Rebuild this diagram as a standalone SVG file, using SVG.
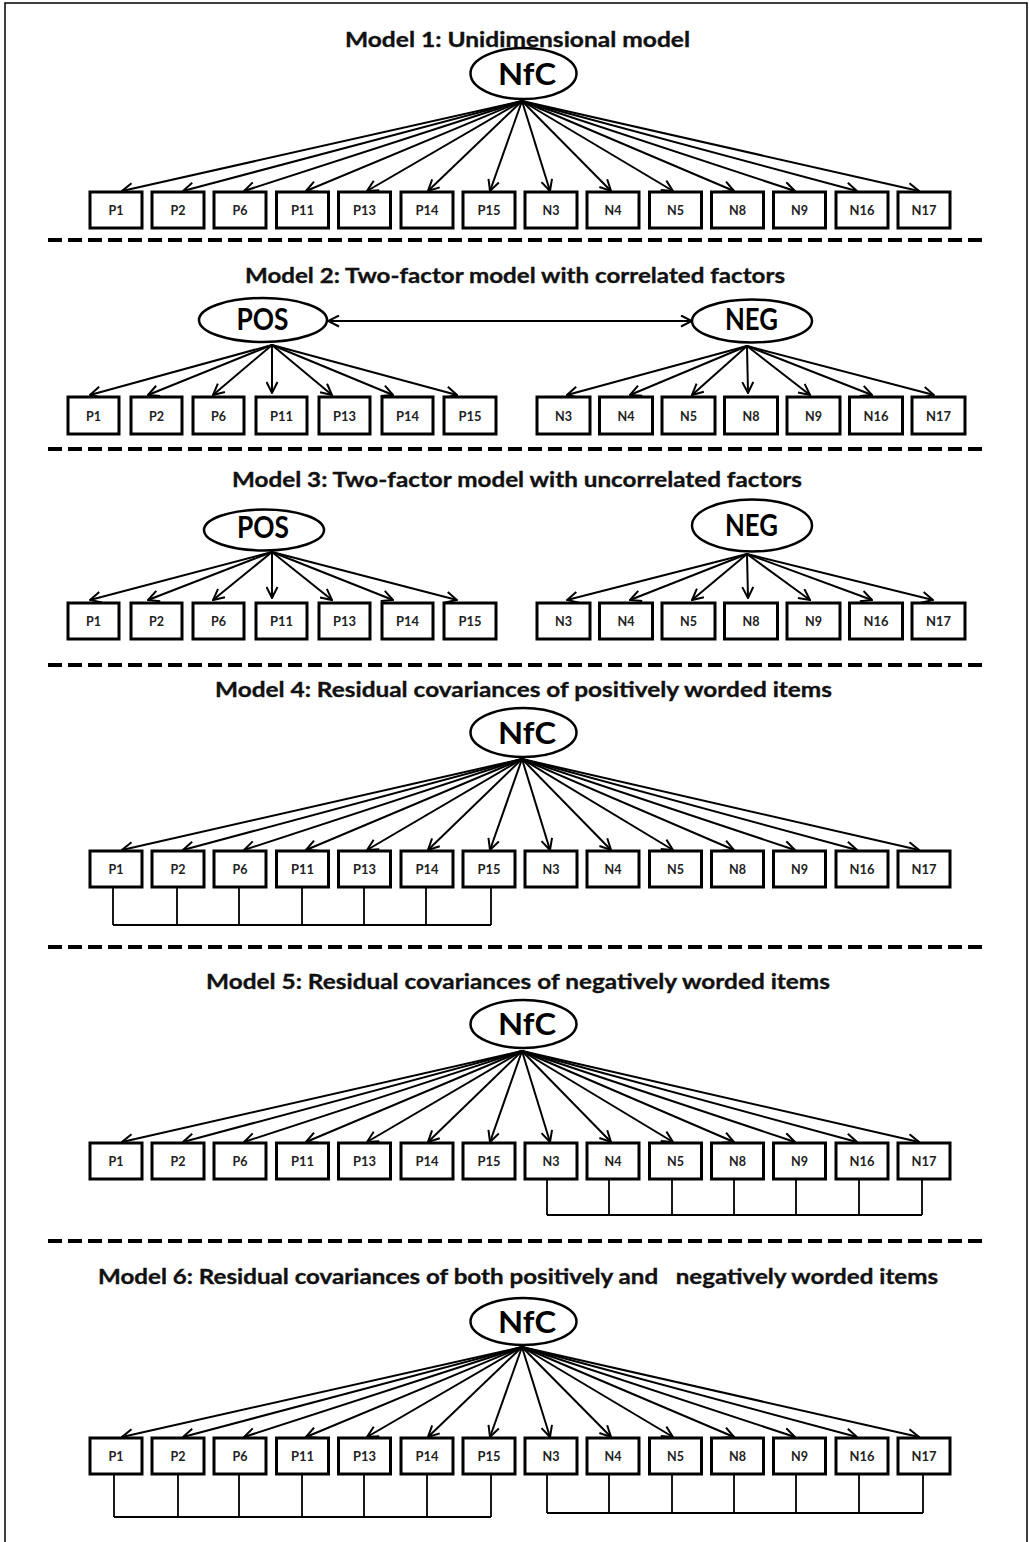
<svg xmlns="http://www.w3.org/2000/svg" width="1029" height="1542" viewBox="0 0 1029 1542">
<style>
.bg{fill:#fff}
.frame{fill:none;stroke:#000;stroke-width:1.5}
.box{fill:#fff;stroke:#000;stroke-width:3}
.lat{fill:#fff;stroke:#000;stroke-width:2.5}
.lbl{font-family:Lato,"Liberation Sans",sans-serif;font-weight:bold;font-size:14px;fill:#222;text-anchor:middle}
.lt{font-family:Lato,"Liberation Sans",sans-serif;font-weight:bold;font-size:31px;fill:#000;text-anchor:middle}
.ttl{font-family:Lato,"Liberation Sans",sans-serif;font-weight:bold;font-size:21.5px;fill:#111;stroke:#111;stroke-width:0.35;text-anchor:middle}
.arr{fill:none;stroke:#000;stroke-width:2;marker-end:url(#ah)}
.dbl{fill:none;stroke:#000;stroke-width:2;marker-end:url(#ah);marker-start:url(#ah)}
.cov{fill:none;stroke:#000;stroke-width:1.8}
.dash{fill:none;stroke:#000;stroke-width:4;stroke-dasharray:14 6}
</style>
<defs>
<marker id="ah" viewBox="0 0 13 13" refX="12" refY="6.5" markerWidth="13" markerHeight="13" markerUnits="userSpaceOnUse" orient="auto-start-reverse">
<path d="M1,1 L12,6.5 L1,12" fill="none" stroke="#000" stroke-width="2"/>
</marker>
</defs>
<rect class="bg" x="0" y="0" width="1029" height="1542"/>
<path class="frame" d="M5,1542 V3 H1027 V1542"/>

<g id="titles">
<text class="ttl" x="517.5" y="47" textLength="345" lengthAdjust="spacingAndGlyphs">Model 1: Unidimensional model</text>
<text class="ttl" x="515" y="283" textLength="540" lengthAdjust="spacingAndGlyphs">Model 2: Two-factor model with correlated factors</text>
<text class="ttl" x="517" y="487" textLength="570" lengthAdjust="spacingAndGlyphs">Model 3: Two-factor model with uncorrelated factors</text>
<text class="ttl" x="523.5" y="697" textLength="617" lengthAdjust="spacingAndGlyphs">Model 4: Residual covariances of positively worded items</text>
<text class="ttl" x="518" y="989" textLength="624" lengthAdjust="spacingAndGlyphs">Model 5: Residual covariances of negatively worded items</text>
<text class="ttl" x="518" y="1284" textLength="840" lengthAdjust="spacingAndGlyphs" style="white-space:pre">Model 6: Residual covariances of both positively and   negatively worded items</text>
</g>

<g id="separators">
<line class="dash" x1="48" y1="240" x2="985" y2="240"/>
<line class="dash" x1="48" y1="449" x2="985" y2="449"/>
<line class="dash" x1="48" y1="665" x2="985" y2="665"/>
<line class="dash" x1="48" y1="947" x2="985" y2="947"/>
<line class="dash" x1="48" y1="1241" x2="985" y2="1241"/>
</g>

<g id="connectors">
<!-- Model 1 -->
<line class="arr" x1="522" y1="101" x2="122" y2="191"/>
<line class="arr" x1="522" y1="101" x2="183" y2="191"/>
<line class="arr" x1="522" y1="101" x2="244" y2="191"/>
<line class="arr" x1="522" y1="101" x2="306" y2="191"/>
<line class="arr" x1="522" y1="101" x2="367" y2="191"/>
<line class="arr" x1="522" y1="101" x2="428" y2="191"/>
<line class="arr" x1="522" y1="101" x2="490" y2="191"/>
<line class="arr" x1="522" y1="101" x2="550" y2="191"/>
<line class="arr" x1="522" y1="101" x2="611" y2="191"/>
<line class="arr" x1="522" y1="101" x2="673" y2="191"/>
<line class="arr" x1="522" y1="101" x2="734" y2="191"/>
<line class="arr" x1="522" y1="101" x2="795" y2="191"/>
<line class="arr" x1="522" y1="101" x2="857" y2="191"/>
<line class="arr" x1="522" y1="101" x2="919" y2="191"/>
<!-- Model 2 -->
<line class="dbl" x1="328" y1="321" x2="692" y2="321"/>
<line class="arr" x1="272" y1="345" x2="90" y2="395"/>
<line class="arr" x1="272" y1="345" x2="148" y2="395"/>
<line class="arr" x1="272" y1="345" x2="213" y2="395"/>
<line class="arr" x1="272" y1="345" x2="272" y2="393"/>
<line class="arr" x1="272" y1="345" x2="332" y2="395"/>
<line class="arr" x1="272" y1="345" x2="393" y2="395"/>
<line class="arr" x1="272" y1="345" x2="457" y2="395"/>
<line class="arr" x1="747" y1="346" x2="567" y2="395"/>
<line class="arr" x1="747" y1="346" x2="630" y2="395"/>
<line class="arr" x1="747" y1="346" x2="692" y2="395"/>
<line class="arr" x1="747" y1="346" x2="748" y2="393"/>
<line class="arr" x1="747" y1="346" x2="810" y2="395"/>
<line class="arr" x1="747" y1="346" x2="872" y2="395"/>
<line class="arr" x1="747" y1="346" x2="934" y2="395"/>
<!-- Model 3 -->
<line class="arr" x1="272" y1="552" x2="90" y2="600"/>
<line class="arr" x1="272" y1="552" x2="148" y2="600"/>
<line class="arr" x1="272" y1="552" x2="213" y2="600"/>
<line class="arr" x1="272" y1="552" x2="272" y2="598"/>
<line class="arr" x1="272" y1="552" x2="332" y2="600"/>
<line class="arr" x1="272" y1="552" x2="393" y2="600"/>
<line class="arr" x1="272" y1="552" x2="457" y2="600"/>
<line class="arr" x1="747" y1="554" x2="567" y2="600"/>
<line class="arr" x1="747" y1="554" x2="630" y2="600"/>
<line class="arr" x1="747" y1="554" x2="692" y2="600"/>
<line class="arr" x1="747" y1="554" x2="748" y2="598"/>
<line class="arr" x1="747" y1="554" x2="810" y2="600"/>
<line class="arr" x1="747" y1="554" x2="872" y2="600"/>
<line class="arr" x1="747" y1="554" x2="933" y2="600"/>
<!-- Model 4 -->
<line class="arr" x1="522" y1="759" x2="122" y2="850"/>
<line class="arr" x1="522" y1="759" x2="183" y2="850"/>
<line class="arr" x1="522" y1="759" x2="244" y2="850"/>
<line class="arr" x1="522" y1="759" x2="306" y2="850"/>
<line class="arr" x1="522" y1="759" x2="367" y2="850"/>
<line class="arr" x1="522" y1="759" x2="428" y2="850"/>
<line class="arr" x1="522" y1="759" x2="490" y2="850"/>
<line class="arr" x1="522" y1="759" x2="550" y2="850"/>
<line class="arr" x1="522" y1="759" x2="611" y2="850"/>
<line class="arr" x1="522" y1="759" x2="673" y2="850"/>
<line class="arr" x1="522" y1="759" x2="734" y2="850"/>
<line class="arr" x1="522" y1="759" x2="795" y2="850"/>
<line class="arr" x1="522" y1="759" x2="857" y2="850"/>
<line class="arr" x1="522" y1="759" x2="919" y2="850"/>
<path class="cov" d="M113,888 V925 M177,888 V925 M239,888 V925 M302,888 V925 M364,888 V925 M426,888 V925 M491,888 V925 M113,925 H491"/>
<!-- Model 5 -->
<line class="arr" x1="522" y1="1051" x2="122" y2="1142"/>
<line class="arr" x1="522" y1="1051" x2="183" y2="1142"/>
<line class="arr" x1="522" y1="1051" x2="244" y2="1142"/>
<line class="arr" x1="522" y1="1051" x2="306" y2="1142"/>
<line class="arr" x1="522" y1="1051" x2="367" y2="1142"/>
<line class="arr" x1="522" y1="1051" x2="428" y2="1142"/>
<line class="arr" x1="522" y1="1051" x2="490" y2="1142"/>
<line class="arr" x1="522" y1="1051" x2="550" y2="1142"/>
<line class="arr" x1="522" y1="1051" x2="611" y2="1142"/>
<line class="arr" x1="522" y1="1051" x2="673" y2="1142"/>
<line class="arr" x1="522" y1="1051" x2="734" y2="1142"/>
<line class="arr" x1="522" y1="1051" x2="795" y2="1142"/>
<line class="arr" x1="522" y1="1051" x2="857" y2="1142"/>
<line class="arr" x1="522" y1="1051" x2="919" y2="1142"/>
<path class="cov" d="M547,1180 V1215 M609,1180 V1215 M672,1180 V1215 M734,1180 V1215 M796,1180 V1215 M859,1180 V1215 M922,1180 V1215 M547,1215 H922"/>
<!-- Model 6 -->
<line class="arr" x1="522" y1="1347" x2="122" y2="1437"/>
<line class="arr" x1="522" y1="1347" x2="183" y2="1437"/>
<line class="arr" x1="522" y1="1347" x2="244" y2="1437"/>
<line class="arr" x1="522" y1="1347" x2="306" y2="1437"/>
<line class="arr" x1="522" y1="1347" x2="367" y2="1437"/>
<line class="arr" x1="522" y1="1347" x2="428" y2="1437"/>
<line class="arr" x1="522" y1="1347" x2="490" y2="1437"/>
<line class="arr" x1="522" y1="1347" x2="550" y2="1437"/>
<line class="arr" x1="522" y1="1347" x2="611" y2="1437"/>
<line class="arr" x1="522" y1="1347" x2="673" y2="1437"/>
<line class="arr" x1="522" y1="1347" x2="734" y2="1437"/>
<line class="arr" x1="522" y1="1347" x2="795" y2="1437"/>
<line class="arr" x1="522" y1="1347" x2="857" y2="1437"/>
<line class="arr" x1="522" y1="1347" x2="919" y2="1437"/>
<path class="cov" d="M114,1475 V1517 M178,1475 V1517 M239,1475 V1517 M302,1475 V1517 M364,1475 V1517 M427,1475 V1517 M491,1475 V1517 M114,1517 H491"/>
<path class="cov" d="M547,1475 V1513 M609,1475 V1513 M672,1475 V1513 M734,1475 V1513 M796,1475 V1513 M859,1475 V1513 M923,1475 V1513 M547,1513 H923"/>
</g>

<!-- Model 1 nodes -->
<g id="m1-NfC"><ellipse class="lat" cx="523.5" cy="73.5" rx="53" ry="25.5"/><text class="lt" x="527" y="84.5" font-size="32" textLength="58" lengthAdjust="spacingAndGlyphs">NfC</text></g>
<g id="m1-P1"><rect class="box" x="90" y="192" width="52" height="36"/><text class="lbl" x="116" y="215" textLength="15" lengthAdjust="spacingAndGlyphs">P1</text></g>
<g id="m1-P2"><rect class="box" x="152" y="192" width="52" height="36"/><text class="lbl" x="178" y="215" textLength="15" lengthAdjust="spacingAndGlyphs">P2</text></g>
<g id="m1-P6"><rect class="box" x="214" y="192" width="52" height="36"/><text class="lbl" x="240" y="215" textLength="15" lengthAdjust="spacingAndGlyphs">P6</text></g>
<g id="m1-P11"><rect class="box" x="276.5" y="192" width="52" height="36"/><text class="lbl" x="302.5" y="215" textLength="23" lengthAdjust="spacingAndGlyphs">P11</text></g>
<g id="m1-P13"><rect class="box" x="338.5" y="192" width="52" height="36"/><text class="lbl" x="364.5" y="215" textLength="23" lengthAdjust="spacingAndGlyphs">P13</text></g>
<g id="m1-P14"><rect class="box" x="401" y="192" width="52" height="36"/><text class="lbl" x="427" y="215" textLength="23" lengthAdjust="spacingAndGlyphs">P14</text></g>
<g id="m1-P15"><rect class="box" x="463" y="192" width="52" height="36"/><text class="lbl" x="489" y="215" textLength="23" lengthAdjust="spacingAndGlyphs">P15</text></g>
<g id="m1-N3"><rect class="box" x="525" y="192" width="52" height="36"/><text class="lbl" x="551" y="215" textLength="17" lengthAdjust="spacingAndGlyphs">N3</text></g>
<g id="m1-N4"><rect class="box" x="587" y="192" width="52" height="36"/><text class="lbl" x="613" y="215" textLength="17" lengthAdjust="spacingAndGlyphs">N4</text></g>
<g id="m1-N5"><rect class="box" x="649.5" y="192" width="52" height="36"/><text class="lbl" x="675.5" y="215" textLength="17" lengthAdjust="spacingAndGlyphs">N5</text></g>
<g id="m1-N8"><rect class="box" x="711.5" y="192" width="52" height="36"/><text class="lbl" x="737.5" y="215" textLength="17" lengthAdjust="spacingAndGlyphs">N8</text></g>
<g id="m1-N9"><rect class="box" x="773.5" y="192" width="52" height="36"/><text class="lbl" x="799.5" y="215" textLength="17" lengthAdjust="spacingAndGlyphs">N9</text></g>
<g id="m1-N16"><rect class="box" x="836" y="192" width="52" height="36"/><text class="lbl" x="862" y="215" textLength="25" lengthAdjust="spacingAndGlyphs">N16</text></g>
<g id="m1-N17"><rect class="box" x="898" y="192" width="52" height="36"/><text class="lbl" x="924" y="215" textLength="25" lengthAdjust="spacingAndGlyphs">N17</text></g>

<!-- Model 2 nodes -->
<g id="m2-POS"><ellipse class="lat" cx="263" cy="320" rx="64" ry="22"/><text class="lt" x="262.5" y="330" textLength="52" lengthAdjust="spacingAndGlyphs">POS</text></g>
<g id="m2-NEG"><ellipse class="lat" cx="752" cy="321" rx="60" ry="21.5"/><text class="lt" x="751.5" y="330" textLength="53" lengthAdjust="spacingAndGlyphs">NEG</text></g>
<g id="m2-P1"><rect class="box" x="68" y="397" width="51" height="37"/><text class="lbl" x="93.5" y="420.5" textLength="15" lengthAdjust="spacingAndGlyphs">P1</text></g>
<g id="m2-P2"><rect class="box" x="131" y="397" width="51" height="37"/><text class="lbl" x="156.5" y="420.5" textLength="15" lengthAdjust="spacingAndGlyphs">P2</text></g>
<g id="m2-P6"><rect class="box" x="193" y="397" width="51" height="37"/><text class="lbl" x="218.5" y="420.5" textLength="15" lengthAdjust="spacingAndGlyphs">P6</text></g>
<g id="m2-P11"><rect class="box" x="256" y="397" width="51" height="37"/><text class="lbl" x="281.5" y="420.5" textLength="23" lengthAdjust="spacingAndGlyphs">P11</text></g>
<g id="m2-P13"><rect class="box" x="319" y="397" width="51" height="37"/><text class="lbl" x="344.5" y="420.5" textLength="23" lengthAdjust="spacingAndGlyphs">P13</text></g>
<g id="m2-P14"><rect class="box" x="382" y="397" width="51" height="37"/><text class="lbl" x="407.5" y="420.5" textLength="23" lengthAdjust="spacingAndGlyphs">P14</text></g>
<g id="m2-P15"><rect class="box" x="444" y="397" width="52" height="37"/><text class="lbl" x="470" y="420.5" textLength="23" lengthAdjust="spacingAndGlyphs">P15</text></g>
<g id="m2-N3"><rect class="box" x="537" y="397" width="53" height="37"/><text class="lbl" x="563.5" y="420.5" textLength="17" lengthAdjust="spacingAndGlyphs">N3</text></g>
<g id="m2-N4"><rect class="box" x="599.5" y="397" width="53" height="37"/><text class="lbl" x="626" y="420.5" textLength="17" lengthAdjust="spacingAndGlyphs">N4</text></g>
<g id="m2-N5"><rect class="box" x="662" y="397" width="53" height="37"/><text class="lbl" x="688.5" y="420.5" textLength="17" lengthAdjust="spacingAndGlyphs">N5</text></g>
<g id="m2-N8"><rect class="box" x="724.5" y="397" width="53" height="37"/><text class="lbl" x="751" y="420.5" textLength="17" lengthAdjust="spacingAndGlyphs">N8</text></g>
<g id="m2-N9"><rect class="box" x="787" y="397" width="53" height="37"/><text class="lbl" x="813.5" y="420.5" textLength="17" lengthAdjust="spacingAndGlyphs">N9</text></g>
<g id="m2-N16"><rect class="box" x="849.5" y="397" width="53" height="37"/><text class="lbl" x="876" y="420.5" textLength="25" lengthAdjust="spacingAndGlyphs">N16</text></g>
<g id="m2-N17"><rect class="box" x="912" y="397" width="53" height="37"/><text class="lbl" x="938.5" y="420.5" textLength="25" lengthAdjust="spacingAndGlyphs">N17</text></g>

<!-- Model 3 nodes -->
<g id="m3-POS"><ellipse class="lat" cx="264" cy="530" rx="60" ry="20.5"/><text class="lt" x="263" y="538" textLength="52" lengthAdjust="spacingAndGlyphs">POS</text></g>
<g id="m3-NEG"><ellipse class="lat" cx="752" cy="525.5" rx="60" ry="26"/><text class="lt" x="751.5" y="536" textLength="53" lengthAdjust="spacingAndGlyphs">NEG</text></g>
<g id="m3-P1"><rect class="box" x="68" y="603" width="51" height="36"/><text class="lbl" x="93.5" y="626" textLength="15" lengthAdjust="spacingAndGlyphs">P1</text></g>
<g id="m3-P2"><rect class="box" x="131" y="603" width="51" height="36"/><text class="lbl" x="156.5" y="626" textLength="15" lengthAdjust="spacingAndGlyphs">P2</text></g>
<g id="m3-P6"><rect class="box" x="193" y="603" width="51" height="36"/><text class="lbl" x="218.5" y="626" textLength="15" lengthAdjust="spacingAndGlyphs">P6</text></g>
<g id="m3-P11"><rect class="box" x="256" y="603" width="51" height="36"/><text class="lbl" x="281.5" y="626" textLength="23" lengthAdjust="spacingAndGlyphs">P11</text></g>
<g id="m3-P13"><rect class="box" x="319" y="603" width="51" height="36"/><text class="lbl" x="344.5" y="626" textLength="23" lengthAdjust="spacingAndGlyphs">P13</text></g>
<g id="m3-P14"><rect class="box" x="382" y="603" width="51" height="36"/><text class="lbl" x="407.5" y="626" textLength="23" lengthAdjust="spacingAndGlyphs">P14</text></g>
<g id="m3-P15"><rect class="box" x="444" y="603" width="52" height="36"/><text class="lbl" x="470" y="626" textLength="23" lengthAdjust="spacingAndGlyphs">P15</text></g>
<g id="m3-N3"><rect class="box" x="537" y="603" width="53" height="36"/><text class="lbl" x="563.5" y="626" textLength="17" lengthAdjust="spacingAndGlyphs">N3</text></g>
<g id="m3-N4"><rect class="box" x="599.5" y="603" width="53" height="36"/><text class="lbl" x="626" y="626" textLength="17" lengthAdjust="spacingAndGlyphs">N4</text></g>
<g id="m3-N5"><rect class="box" x="662" y="603" width="53" height="36"/><text class="lbl" x="688.5" y="626" textLength="17" lengthAdjust="spacingAndGlyphs">N5</text></g>
<g id="m3-N8"><rect class="box" x="724.5" y="603" width="53" height="36"/><text class="lbl" x="751" y="626" textLength="17" lengthAdjust="spacingAndGlyphs">N8</text></g>
<g id="m3-N9"><rect class="box" x="787" y="603" width="53" height="36"/><text class="lbl" x="813.5" y="626" textLength="17" lengthAdjust="spacingAndGlyphs">N9</text></g>
<g id="m3-N16"><rect class="box" x="849.5" y="603" width="53" height="36"/><text class="lbl" x="876" y="626" textLength="25" lengthAdjust="spacingAndGlyphs">N16</text></g>
<g id="m3-N17"><rect class="box" x="912" y="603" width="53" height="36"/><text class="lbl" x="938.5" y="626" textLength="25" lengthAdjust="spacingAndGlyphs">N17</text></g>

<!-- Model 4 nodes -->
<g id="m4-NfC"><ellipse class="lat" cx="523.5" cy="732.5" rx="53" ry="24.5"/><text class="lt" x="527" y="743.5" font-size="32" textLength="58" lengthAdjust="spacingAndGlyphs">NfC</text></g>
<g id="m4-P1"><rect class="box" x="90" y="851" width="52" height="36"/><text class="lbl" x="116" y="874" textLength="15" lengthAdjust="spacingAndGlyphs">P1</text></g>
<g id="m4-P2"><rect class="box" x="152" y="851" width="52" height="36"/><text class="lbl" x="178" y="874" textLength="15" lengthAdjust="spacingAndGlyphs">P2</text></g>
<g id="m4-P6"><rect class="box" x="214" y="851" width="52" height="36"/><text class="lbl" x="240" y="874" textLength="15" lengthAdjust="spacingAndGlyphs">P6</text></g>
<g id="m4-P11"><rect class="box" x="276.5" y="851" width="52" height="36"/><text class="lbl" x="302.5" y="874" textLength="23" lengthAdjust="spacingAndGlyphs">P11</text></g>
<g id="m4-P13"><rect class="box" x="338.5" y="851" width="52" height="36"/><text class="lbl" x="364.5" y="874" textLength="23" lengthAdjust="spacingAndGlyphs">P13</text></g>
<g id="m4-P14"><rect class="box" x="401" y="851" width="52" height="36"/><text class="lbl" x="427" y="874" textLength="23" lengthAdjust="spacingAndGlyphs">P14</text></g>
<g id="m4-P15"><rect class="box" x="463" y="851" width="52" height="36"/><text class="lbl" x="489" y="874" textLength="23" lengthAdjust="spacingAndGlyphs">P15</text></g>
<g id="m4-N3"><rect class="box" x="525" y="851" width="52" height="36"/><text class="lbl" x="551" y="874" textLength="17" lengthAdjust="spacingAndGlyphs">N3</text></g>
<g id="m4-N4"><rect class="box" x="587" y="851" width="52" height="36"/><text class="lbl" x="613" y="874" textLength="17" lengthAdjust="spacingAndGlyphs">N4</text></g>
<g id="m4-N5"><rect class="box" x="649.5" y="851" width="52" height="36"/><text class="lbl" x="675.5" y="874" textLength="17" lengthAdjust="spacingAndGlyphs">N5</text></g>
<g id="m4-N8"><rect class="box" x="711.5" y="851" width="52" height="36"/><text class="lbl" x="737.5" y="874" textLength="17" lengthAdjust="spacingAndGlyphs">N8</text></g>
<g id="m4-N9"><rect class="box" x="773.5" y="851" width="52" height="36"/><text class="lbl" x="799.5" y="874" textLength="17" lengthAdjust="spacingAndGlyphs">N9</text></g>
<g id="m4-N16"><rect class="box" x="836" y="851" width="52" height="36"/><text class="lbl" x="862" y="874" textLength="25" lengthAdjust="spacingAndGlyphs">N16</text></g>
<g id="m4-N17"><rect class="box" x="898" y="851" width="52" height="36"/><text class="lbl" x="924" y="874" textLength="25" lengthAdjust="spacingAndGlyphs">N17</text></g>

<!-- Model 5 nodes -->
<g id="m5-NfC"><ellipse class="lat" cx="523.5" cy="1024" rx="53" ry="24"/><text class="lt" x="527" y="1035" font-size="32" textLength="58" lengthAdjust="spacingAndGlyphs">NfC</text></g>
<g id="m5-P1"><rect class="box" x="90" y="1143" width="52" height="36"/><text class="lbl" x="116" y="1166" textLength="15" lengthAdjust="spacingAndGlyphs">P1</text></g>
<g id="m5-P2"><rect class="box" x="152" y="1143" width="52" height="36"/><text class="lbl" x="178" y="1166" textLength="15" lengthAdjust="spacingAndGlyphs">P2</text></g>
<g id="m5-P6"><rect class="box" x="214" y="1143" width="52" height="36"/><text class="lbl" x="240" y="1166" textLength="15" lengthAdjust="spacingAndGlyphs">P6</text></g>
<g id="m5-P11"><rect class="box" x="276.5" y="1143" width="52" height="36"/><text class="lbl" x="302.5" y="1166" textLength="23" lengthAdjust="spacingAndGlyphs">P11</text></g>
<g id="m5-P13"><rect class="box" x="338.5" y="1143" width="52" height="36"/><text class="lbl" x="364.5" y="1166" textLength="23" lengthAdjust="spacingAndGlyphs">P13</text></g>
<g id="m5-P14"><rect class="box" x="401" y="1143" width="52" height="36"/><text class="lbl" x="427" y="1166" textLength="23" lengthAdjust="spacingAndGlyphs">P14</text></g>
<g id="m5-P15"><rect class="box" x="463" y="1143" width="52" height="36"/><text class="lbl" x="489" y="1166" textLength="23" lengthAdjust="spacingAndGlyphs">P15</text></g>
<g id="m5-N3"><rect class="box" x="525" y="1143" width="52" height="36"/><text class="lbl" x="551" y="1166" textLength="17" lengthAdjust="spacingAndGlyphs">N3</text></g>
<g id="m5-N4"><rect class="box" x="587" y="1143" width="52" height="36"/><text class="lbl" x="613" y="1166" textLength="17" lengthAdjust="spacingAndGlyphs">N4</text></g>
<g id="m5-N5"><rect class="box" x="649.5" y="1143" width="52" height="36"/><text class="lbl" x="675.5" y="1166" textLength="17" lengthAdjust="spacingAndGlyphs">N5</text></g>
<g id="m5-N8"><rect class="box" x="711.5" y="1143" width="52" height="36"/><text class="lbl" x="737.5" y="1166" textLength="17" lengthAdjust="spacingAndGlyphs">N8</text></g>
<g id="m5-N9"><rect class="box" x="773.5" y="1143" width="52" height="36"/><text class="lbl" x="799.5" y="1166" textLength="17" lengthAdjust="spacingAndGlyphs">N9</text></g>
<g id="m5-N16"><rect class="box" x="836" y="1143" width="52" height="36"/><text class="lbl" x="862" y="1166" textLength="25" lengthAdjust="spacingAndGlyphs">N16</text></g>
<g id="m5-N17"><rect class="box" x="898" y="1143" width="52" height="36"/><text class="lbl" x="924" y="1166" textLength="25" lengthAdjust="spacingAndGlyphs">N17</text></g>

<!-- Model 6 nodes -->
<g id="m6-NfC"><ellipse class="lat" cx="523.5" cy="1321.5" rx="53" ry="23.5"/><text class="lt" x="527" y="1332.5" font-size="32" textLength="58" lengthAdjust="spacingAndGlyphs">NfC</text></g>
<g id="m6-P1"><rect class="box" x="90" y="1438" width="52" height="36"/><text class="lbl" x="116" y="1461" textLength="15" lengthAdjust="spacingAndGlyphs">P1</text></g>
<g id="m6-P2"><rect class="box" x="152" y="1438" width="52" height="36"/><text class="lbl" x="178" y="1461" textLength="15" lengthAdjust="spacingAndGlyphs">P2</text></g>
<g id="m6-P6"><rect class="box" x="214" y="1438" width="52" height="36"/><text class="lbl" x="240" y="1461" textLength="15" lengthAdjust="spacingAndGlyphs">P6</text></g>
<g id="m6-P11"><rect class="box" x="276.5" y="1438" width="52" height="36"/><text class="lbl" x="302.5" y="1461" textLength="23" lengthAdjust="spacingAndGlyphs">P11</text></g>
<g id="m6-P13"><rect class="box" x="338.5" y="1438" width="52" height="36"/><text class="lbl" x="364.5" y="1461" textLength="23" lengthAdjust="spacingAndGlyphs">P13</text></g>
<g id="m6-P14"><rect class="box" x="401" y="1438" width="52" height="36"/><text class="lbl" x="427" y="1461" textLength="23" lengthAdjust="spacingAndGlyphs">P14</text></g>
<g id="m6-P15"><rect class="box" x="463" y="1438" width="52" height="36"/><text class="lbl" x="489" y="1461" textLength="23" lengthAdjust="spacingAndGlyphs">P15</text></g>
<g id="m6-N3"><rect class="box" x="525" y="1438" width="52" height="36"/><text class="lbl" x="551" y="1461" textLength="17" lengthAdjust="spacingAndGlyphs">N3</text></g>
<g id="m6-N4"><rect class="box" x="587" y="1438" width="52" height="36"/><text class="lbl" x="613" y="1461" textLength="17" lengthAdjust="spacingAndGlyphs">N4</text></g>
<g id="m6-N5"><rect class="box" x="649.5" y="1438" width="52" height="36"/><text class="lbl" x="675.5" y="1461" textLength="17" lengthAdjust="spacingAndGlyphs">N5</text></g>
<g id="m6-N8"><rect class="box" x="711.5" y="1438" width="52" height="36"/><text class="lbl" x="737.5" y="1461" textLength="17" lengthAdjust="spacingAndGlyphs">N8</text></g>
<g id="m6-N9"><rect class="box" x="773.5" y="1438" width="52" height="36"/><text class="lbl" x="799.5" y="1461" textLength="17" lengthAdjust="spacingAndGlyphs">N9</text></g>
<g id="m6-N16"><rect class="box" x="836" y="1438" width="52" height="36"/><text class="lbl" x="862" y="1461" textLength="25" lengthAdjust="spacingAndGlyphs">N16</text></g>
<g id="m6-N17"><rect class="box" x="898" y="1438" width="52" height="36"/><text class="lbl" x="924" y="1461" textLength="25" lengthAdjust="spacingAndGlyphs">N17</text></g>
</svg>
